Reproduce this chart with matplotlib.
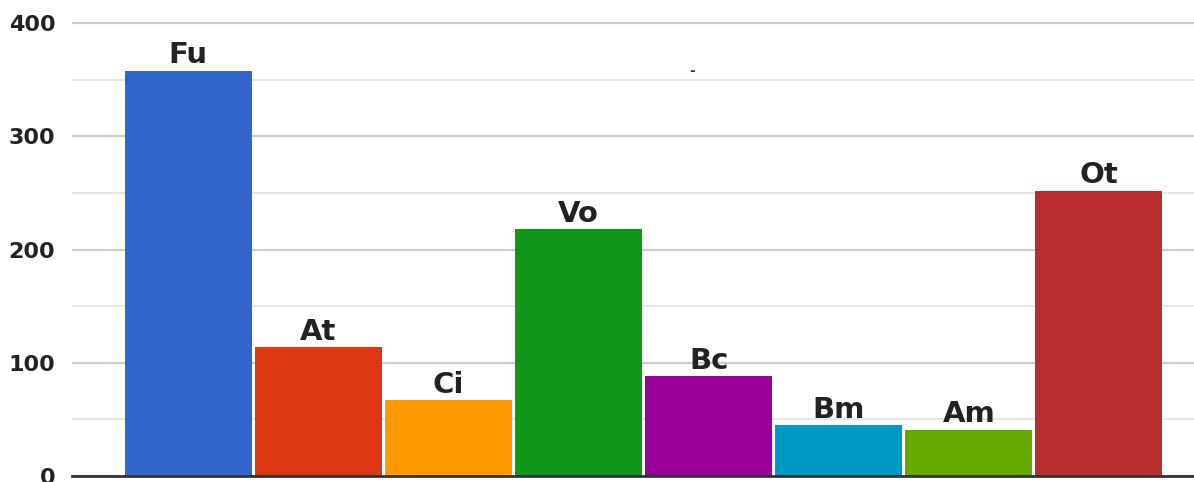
import matplotlib.pyplot as plt
from matplotlib.ticker import MultipleLocator

# bar data
labels = ["Fu", "At", "Ci", "Vo", "Bc", "Bm", "Am", "Ot"]
values = [358, 114, 67, 218, 88, 45, 41, 252]
colors = ["#3366CC", "#DC3912", "#FF9900", "#109618",
          "#990099", "#0099C6", "#66AA00", "#B82E2E"]
y_ticks = [0, 100, 200, 300, 400]

plt.rcParams['font.family'] = ['DejaVu Sans']

fig = plt.figure(figsize=(11.94, 4.82), dpi=100)
# axes spans from the left gridline start to the right edge
ax = fig.add_axes([72 / 1194, 6 / 482, 1 - 72 / 1194, (476 - 20) / 482])

x = list(range(len(labels)))
ax.bar(x, values, width=0.975, color=colors, zorder=2)

for xi, v, lab in zip(x, values, labels):
    ax.annotate(lab, (xi, v), xytext=(0, 1), textcoords="offset points",
                ha="center", va="bottom", fontsize=21, fontweight="bold",
                color="#222222")

# small stray dash near the top
ax.text(3.87, 358, "-", fontsize=10, fontweight="bold", color="#333344",
        ha="center", va="center")

ax.set_xlim(-0.5 - 51 / 130.1, 7.5 + 30 / 130.1)
ax.set_ylim(0, 400 * 456 / 452.8)

ax.set_yticks(y_ticks)
ax.yaxis.set_minor_locator(MultipleLocator(50))
ax.grid(axis="y", which="major", color="#cccccc", linewidth=1.6, zorder=0)
ax.grid(axis="y", which="minor", color="#e6e6e6", linewidth=1.4, zorder=0)
ax.set_axisbelow(True)

ax.tick_params(axis="y", which="both", length=0, pad=12)
ax.tick_params(axis="x", which="both", length=0, labelbottom=False)
for t in ax.get_yticklabels():
    t.set_fontsize(16)
    t.set_fontweight("bold")
    t.set_color("#222222")

for side in ["top", "right", "left"]:
    ax.spines[side].set_visible(False)
ax.spines["bottom"].set_color("#333333")
ax.spines["bottom"].set_linewidth(2)
ax.spines["bottom"].set_zorder(3)

fig.savefig("out.png", dpi=100)
